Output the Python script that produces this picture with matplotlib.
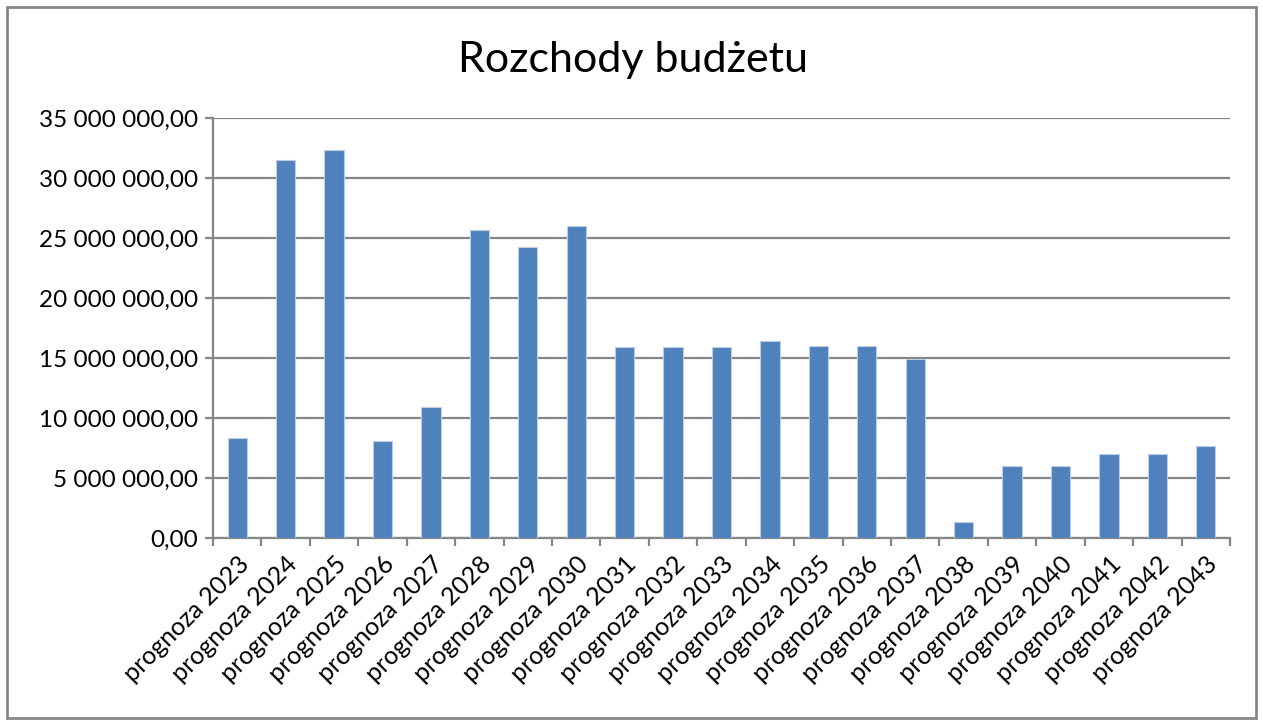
import matplotlib
matplotlib.use("Agg")
import matplotlib.pyplot as plt
from matplotlib.patches import Rectangle
from matplotlib.ticker import FuncFormatter, FixedLocator
import numpy as np

title = "Rozchody budżetu"
categories = [f"prognoza {y}" for y in range(2023, 2044)]
values = [8.37e6, 31.5e6, 32.3e6, 8.12e6, 10.9e6, 25.7e6, 24.25e6, 25.97e6,
          15.94e6, 15.89e6, 15.89e6, 16.4e6, 16.0e6, 16.0e6, 14.95e6,
          1.35e6, 6.0e6, 6.0e6, 6.97e6, 6.97e6, 7.67e6]

plt.rcParams['font.family'] = ['Lato', 'DejaVu Sans']

fig = plt.figure(figsize=(12.63, 7.25), dpi=100)
ax = fig.add_axes([213/1263, 1-538/725, (1230-213)/1263, (538-118)/725])

x = np.arange(len(categories))
ax.bar(x, values, width=0.4, color="#4F81BD", edgecolor="#B9CDE5", linewidth=0.8, zorder=3)

ax.set_xlim(-0.5, len(categories)-0.5)
ax.set_ylim(0, 35e6)
ax.set_yticks(np.arange(0, 35e6+1, 5e6))

def fmt(v, pos):
    s = f"{v:,.2f}"
    s = s.replace(",", " ").replace(".", ",")
    return s
ax.yaxis.set_major_formatter(FuncFormatter(fmt))
ax.grid(axis="y", color="#868686", linewidth=1.6, zorder=0)

ax.set_xticks(x)
ax.set_xticklabels(categories, rotation=45, ha="right", rotation_mode="anchor")
ax.xaxis.set_minor_locator(FixedLocator(np.arange(-0.5, len(categories), 1.0)))
ax.tick_params(axis="x", which="major", length=0, pad=10, labelsize=18)
ax.tick_params(axis="x", which="minor", length=6, width=1.6, color="#868686")
ax.tick_params(axis="y", length=6, width=1.6, color="#868686", labelsize=17.5, pad=5)

for side in ["top", "right"]:
    ax.spines[side].set_visible(False)
for side in ["left", "bottom"]:
    ax.spines[side].set_color("#868686")
    ax.spines[side].set_linewidth(1.6)

fig.text(633/1263, 1-60/725, title, ha="center", va="center", fontsize=31)

fig.patches.append(Rectangle((7/1263, 7/725), 1249/1263, 711/725, transform=fig.transFigure,
                             fill=False, edgecolor="#868686", linewidth=2))

fig.savefig("out.png", dpi=100)
